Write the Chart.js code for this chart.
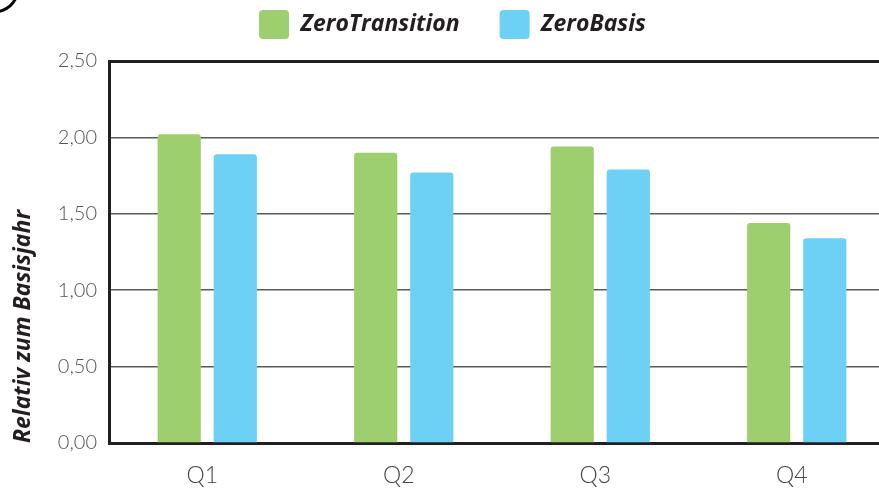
<!DOCTYPE html>
<html lang="de">
  <head>
    <meta charset="UTF-8" />
    <title>ZeroTransition vs ZeroBasis</title>
    <style>
      body {
        margin: 0;
        overflow: hidden;
        background: #fff;
      }
      .chart-container {
        position: relative;
        width: 900px;
        height: 488px;
      }
    </style>
  </head>
  <body>
    <div class="chart-container">
      <canvas id="quarterChart"></canvas>
    </div>
    <script src="https://cdn.jsdelivr.net/npm/chart.js"></script>
    <script>
      const quarters = ["Q1", "Q2", "Q3", "Q4"];
      const zeroTransition = [2.02, 1.9, 1.94, 1.44];
      const zeroBasis = [1.89, 1.77, 1.79, 1.34];
      const yTicks = [0, 0.5, 1, 1.5, 2, 2.5];

      // little black stroke in the top-left corner of the original
      const cornerMark = {
        id: "cornerMark",
        afterDraw(chart) {
          const ctx = chart.ctx;
          ctx.save();
          ctx.strokeStyle = "#000";
          ctx.lineWidth = 3;
          ctx.beginPath();
          ctx.arc(-6, -12, 24, 0.15 * Math.PI, 0.62 * Math.PI);
          ctx.stroke();
          ctx.restore();
        },
      };

      // wide gap between legend items, but the legend box itself ends at y=61
      const legendSpace = {
        id: "legendSpace",
        beforeInit(chart) {
          const fit = chart.legend.fit;
          chart.legend.fit = function () {
            fit.call(this);
            this.height = 91;
          };
        },
        afterLayout(chart) {
          chart.legend.left += 5;
          chart.legend.right += 5;
        },
      };

      const config = {
        type: "bar",
        data: {
          labels: quarters,
          datasets: [
            {
              label: "ZeroTransition",
              data: zeroTransition,
              backgroundColor: "#9ecf6e",
              borderRadius: 3,
              borderSkipped: "start",
            },
            {
              label: "ZeroBasis",
              data: zeroBasis,
              backgroundColor: "#6dd1f6",
              borderRadius: 3,
              borderSkipped: "start",
            },
          ],
        },
        options: {
          responsive: true,
          maintainAspectRatio: false,
          animation: false,
          categoryPercentage: 0.571,
          barPercentage: 0.77,
          layout: { padding: { top: -30, right: 5, left: 0, bottom: 0 } },
          plugins: {
            tooltip: { enabled: false },
            legend: {
              position: "top",
              labels: {
                boxWidth: 30,
                boxHeight: 29,
                useBorderRadius: true,
                borderRadius: 4,
                padding: 40,
                color: "#231f20",
                font: { family: "Open Sans", size: 23, weight: "bold", style: "italic" },
              },
            },
          },
          scales: {
            x: {
              grid: { display: false, drawTicks: false },
              border: { display: true, color: "#231f20", width: 3 },
              ticks: {
                padding: 19,
                labelOffset: -5,
                color: "#444",
                font: { family: "Lato", size: 23, weight: 300 },
              },
              afterFit: (scale) => {
                scale.height = 45;
              },
            },
            y: {
              min: 0,
              max: 2.5,
              afterBuildTicks: (scale) => {
                scale.ticks = yTicks.map((v) => ({ value: v }));
              },
              grid: {
                drawTicks: false,
                color: (ctx) => (ctx.tick && ctx.tick.value === 2.5 ? "#231f20" : "#5a5a5a"),
                lineWidth: (ctx) => (ctx.tick && ctx.tick.value === 2.5 ? 3 : 1.5),
              },
              border: { display: true, color: "#231f20", width: 3 },
              ticks: {
                padding: 12,
                color: "#555",
                font: { family: "Lato", size: 20, weight: 300 },
                callback: (v) => Number(v).toFixed(2).replace(".", ","),
              },
              title: {
                display: true,
                text: "Relativ zum Basisjahr",
                align: "start",
                color: "#231f20",
                padding: { top: 10, bottom: 0 },
                font: { family: "Open Sans", size: 23, weight: "bold", style: "italic" },
              },
              afterFit: (scale) => {
                scale.width = 109;
              },
            },
          },
        },
        plugins: [cornerMark, legendSpace],
      };

      new Chart(document.getElementById("quarterChart"), config);
    </script>
  </body>
</html>
